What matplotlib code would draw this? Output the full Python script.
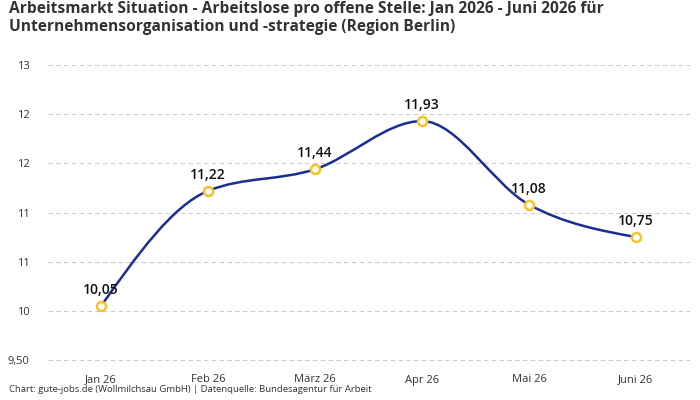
import matplotlib
matplotlib.use("Agg")
import matplotlib.pyplot as plt
from matplotlib.path import Path
from matplotlib.patches import PathPatch
import numpy as np

categories = ["Jan 26", "Feb 26", "März 26", "Apr 26", "Mai 26", "Juni 26"]
values = [10.05, 11.22, 11.44, 11.93, 11.08, 10.75]
value_labels = ["10,05", "11,22", "11,44", "11,93", "11,08", "10,75"]
y_ticks = [9.5, 10.0, 10.5, 11.0, 11.5, 12.0, 12.5]
y_tick_labels = ["9,50", "10", "11", "11", "12", "12", "13"]
title = ("Arbeitsmarkt Situation - Arbeitslose pro offene Stelle: Jan 2026 - Juni 2026 für\n"
         "Unternehmensorganisation und -strategie (Region Berlin)")
footer = "Chart: gute-jobs.de (Wollmilchsau GmbH) | Datenquelle: Bundesagentur für Arbeit"

plt.rcParams['font.family'] = ['Open Sans', 'DejaVu Sans']

LINE = "#1b2d92"
MARK = "#f6c22b"

fig = plt.figure(figsize=(7, 4), dpi=100)
ax = fig.add_axes([0.068, 0.095, 0.917, 0.7425])

x = np.arange(len(values), dtype=float)
y = np.array(values, dtype=float)

# monotone cubic (d3 curveMonotoneX) tangents
n = len(x)
h = np.diff(x)
s = np.diff(y) / h
t = np.zeros(n)
for i in range(1, n - 1):
    s0, s1 = s[i - 1], s[i]
    p = (s0 * h[i] + s1 * h[i - 1]) / (h[i - 1] + h[i])
    t[i] = (np.sign(s0) + np.sign(s1)) * min(abs(s0), abs(s1), 0.5 * abs(p))
t[0] = (3 * s[0] - t[1]) / 2
t[-1] = (3 * s[-1] - t[-2]) / 2

verts = [(x[0], y[0])]
codes = [Path.MOVETO]
for i in range(n - 1):
    dx = (x[i + 1] - x[i]) / 3
    verts += [(x[i] + dx, y[i] + dx * t[i]), (x[i + 1] - dx, y[i + 1] - dx * t[i + 1]), (x[i + 1], y[i + 1])]
    codes += [Path.CURVE4] * 3
ax.add_patch(PathPatch(Path(verts, codes), facecolor="none", edgecolor=LINE, lw=1.8, zorder=3))

ax.plot(x, y, linestyle="none", marker="o", markersize=6.5, markerfacecolor="white",
        markeredgecolor=MARK, markeredgewidth=1.8, zorder=4)

for xi, yi, lab in zip(x, y, value_labels):
    ax.annotate(lab, (xi, yi), xytext=(0, 6.5), textcoords="offset points", ha="center", va="bottom",
                fontsize=10, color="#111111", fontweight="semibold", zorder=5)

ax.set_xlim(-0.5, n - 0.5)
ax.set_ylim(9.48, 12.5)
ax.set_xticks(x)
ax.set_xticklabels(categories, fontsize=8, color="#333333")
ax.set_yticks(y_ticks)
ax.set_yticklabels(y_tick_labels, fontsize=8, color="#333333")
ax.tick_params(length=0, pad=9)
ax.tick_params(axis="y", pad=13)
for sp in ax.spines.values():
    sp.set_visible(False)
ax.grid(axis="y", color="#cccccc", linestyle=(0, (4, 3)), linewidth=0.8)
ax.set_axisbelow(True)

fig.text(0.013, 0.997, title, ha="left", va="top", fontsize=11.2, fontweight="bold", color="#333333",
         linespacing=1.12)
fig.text(0.013, 0.015, footer, ha="left", va="bottom", fontsize=6.8, color="#333333")

fig.savefig("out.png", dpi=100)
